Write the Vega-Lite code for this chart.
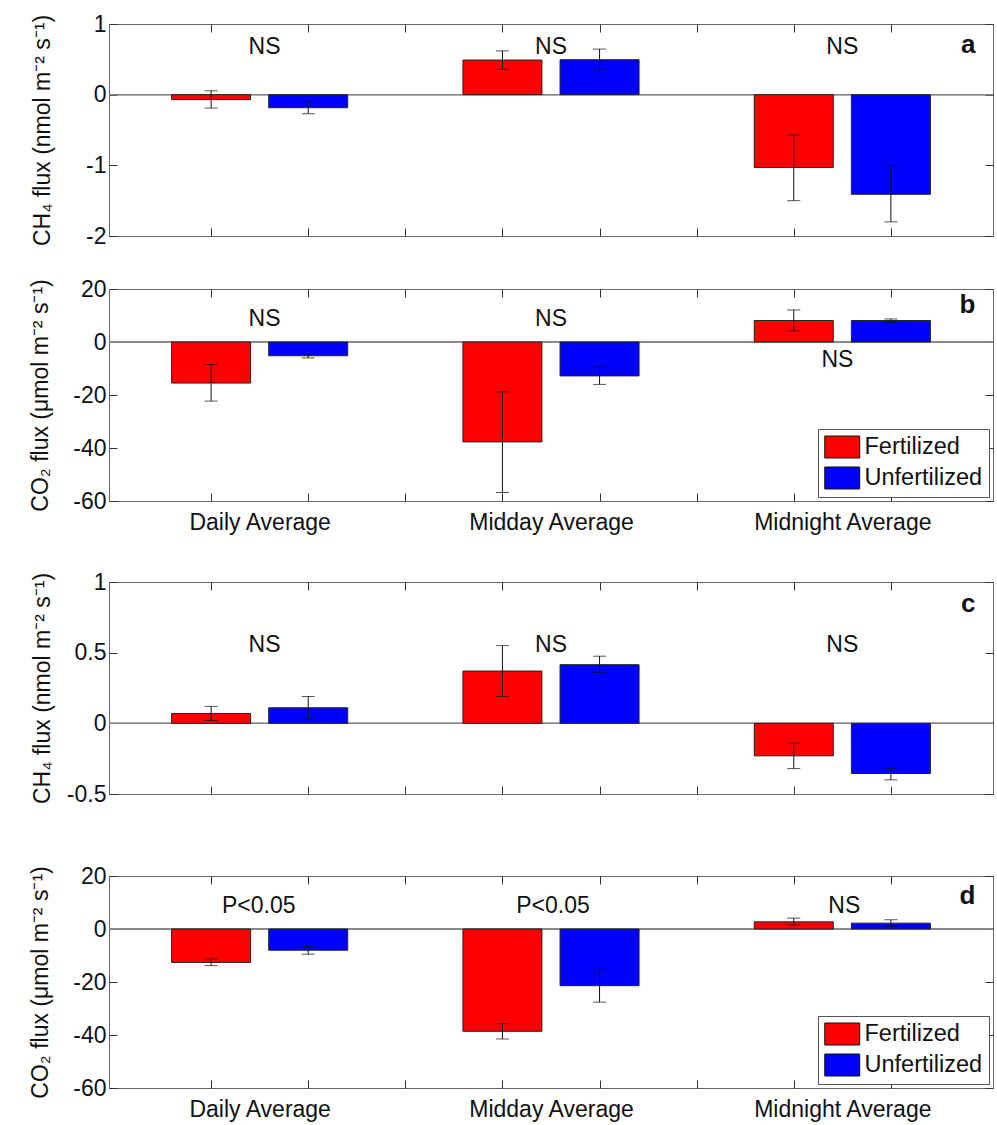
{
  "$schema": "https://vega.github.io/schema/vega-lite/v6.json",
  "padding": {"left": 28, "top": 12, "right": 0, "bottom": 0},
  "config": {
    "font": "Liberation Sans",
    "view": {"stroke": "#666", "strokeWidth": 1},
    "axis": {"grid": false, "domain": false, "tickSize": -8, "tickColor": "#333", "tickWidth": 1,
      "labelFont": "Liberation Sans", "labelFontSize": 23, "labelColor": "#111", "labelPadding": 11,
      "titleFont": "Liberation Sans", "titleFontSize": 23, "titleFontWeight": "normal", "titleColor": "#111"},
    "text": {"font": "Liberation Sans", "fontSize": 23, "color": "#111", "baseline": "alphabetic"}
  },
  "datasets": {
    "bars": [
      {"panel": "a", "period": "Daily Average", "treatment": "Fertilized", "x": 1, "mean": -0.07, "lo": -0.19, "hi": 0.055},
      {"panel": "a", "period": "Daily Average", "treatment": "Unfertilized", "x": 2, "mean": -0.185, "lo": -0.27, "hi": -0.10},
      {"panel": "a", "period": "Midday Average", "treatment": "Fertilized", "x": 4, "mean": 0.49, "lo": 0.36, "hi": 0.62},
      {"panel": "a", "period": "Midday Average", "treatment": "Unfertilized", "x": 5, "mean": 0.495, "lo": 0.35, "hi": 0.645},
      {"panel": "a", "period": "Midnight Average", "treatment": "Fertilized", "x": 7, "mean": -1.03, "lo": -1.50, "hi": -0.57},
      {"panel": "a", "period": "Midnight Average", "treatment": "Unfertilized", "x": 8, "mean": -1.41, "lo": -1.80, "hi": -1.00},
      {"panel": "b", "period": "Daily Average", "treatment": "Fertilized", "x": 1, "mean": -15.5, "lo": -22.3, "hi": -8.5},
      {"panel": "b", "period": "Daily Average", "treatment": "Unfertilized", "x": 2, "mean": -5.2, "lo": -6.0, "hi": -4.5},
      {"panel": "b", "period": "Midday Average", "treatment": "Fertilized", "x": 4, "mean": -37.7, "lo": -56.8, "hi": -18.8},
      {"panel": "b", "period": "Midday Average", "treatment": "Unfertilized", "x": 5, "mean": -12.8, "lo": -16.0, "hi": -9.5},
      {"panel": "b", "period": "Midnight Average", "treatment": "Fertilized", "x": 7, "mean": 8.1, "lo": 4.2, "hi": 12.1},
      {"panel": "b", "period": "Midnight Average", "treatment": "Unfertilized", "x": 8, "mean": 8.1, "lo": 7.5, "hi": 8.7},
      {"panel": "c", "period": "Daily Average", "treatment": "Fertilized", "x": 1, "mean": 0.07, "lo": 0.02, "hi": 0.12},
      {"panel": "c", "period": "Daily Average", "treatment": "Unfertilized", "x": 2, "mean": 0.11, "lo": 0.03, "hi": 0.19},
      {"panel": "c", "period": "Midday Average", "treatment": "Fertilized", "x": 4, "mean": 0.37, "lo": 0.19, "hi": 0.55},
      {"panel": "c", "period": "Midday Average", "treatment": "Unfertilized", "x": 5, "mean": 0.415, "lo": 0.36, "hi": 0.475},
      {"panel": "c", "period": "Midnight Average", "treatment": "Fertilized", "x": 7, "mean": -0.23, "lo": -0.32, "hi": -0.14},
      {"panel": "c", "period": "Midnight Average", "treatment": "Unfertilized", "x": 8, "mean": -0.355, "lo": -0.40, "hi": -0.32},
      {"panel": "d", "period": "Daily Average", "treatment": "Fertilized", "x": 1, "mean": -12.6, "lo": -13.8, "hi": -11.3},
      {"panel": "d", "period": "Daily Average", "treatment": "Unfertilized", "x": 2, "mean": -8.0, "lo": -9.5, "hi": -6.6},
      {"panel": "d", "period": "Midday Average", "treatment": "Fertilized", "x": 4, "mean": -38.6, "lo": -41.5, "hi": -35.7},
      {"panel": "d", "period": "Midday Average", "treatment": "Unfertilized", "x": 5, "mean": -21.4, "lo": -27.6, "hi": -15.2},
      {"panel": "d", "period": "Midnight Average", "treatment": "Fertilized", "x": 7, "mean": 2.7, "lo": 1.5, "hi": 4.1},
      {"panel": "d", "period": "Midnight Average", "treatment": "Unfertilized", "x": 8, "mean": 2.2, "lo": 1.0, "hi": 3.5}
    ],
    "notes": [
      {"panel": "a", "x": 1.55, "y": 0.571, "label": "NS"},
      {"panel": "a", "x": 4.5, "y": 0.571, "label": "NS"},
      {"panel": "a", "x": 7.5, "y": 0.571, "label": "NS"},
      {"panel": "b", "x": 1.55, "y": 6.05, "label": "NS"},
      {"panel": "b", "x": 4.5, "y": 6.05, "label": "NS"},
      {"panel": "b", "x": 7.45, "y": -9.3, "label": "NS"},
      {"panel": "c", "x": 1.55, "y": 0.508, "label": "NS"},
      {"panel": "c", "x": 4.5, "y": 0.508, "label": "NS"},
      {"panel": "c", "x": 7.5, "y": 0.508, "label": "NS"},
      {"panel": "d", "x": 1.49, "y": 6.2, "label": "P<0.05"},
      {"panel": "d", "x": 4.52, "y": 6.2, "label": "P<0.05"},
      {"panel": "d", "x": 7.52, "y": 6.2, "label": "NS"}
    ],
    "letters": [
      {"panel": "a", "x": 8.87, "y": 0.594, "label": "a"},
      {"panel": "b", "x": 8.87, "y": 10.9, "label": "b"},
      {"panel": "c", "x": 8.87, "y": 0.79, "label": "c"},
      {"panel": "d", "x": 8.87, "y": 9.3, "label": "d"}
    ]
  },
  "resolve": {"legend": {"color": "independent"}},
  "spacing": 35,
  "vconcat": [
    {
      "bounds": "flush",
      "spacing": 53,
      "resolve": {"legend": {"color": "independent"}},
      "vconcat": [
        {
          "width": 884, "height": 212,
          "resolve": {"axis": {"x": "independent", "y": "independent"}},
          "layer": [
            {"data": {"name": "bars"}, "transform": [{"filter": "datum.panel === 'a'"}],
             "mark": {"type": "rule", "color": "#888", "strokeWidth": 1},
             "encoding": {"y": {"datum": 0, "type": "quantitative", "scale": {"domain": [-2, 1], "nice": false}, "axis": null}}},
            {"data": {"name": "bars"}, "transform": [{"filter": "datum.panel === 'a'"}],
             "mark": {"type": "bar", "width": 79, "stroke": "#222", "strokeWidth": 1},
             "encoding": {
               "x": {"field": "x", "type": "quantitative", "scale": {"domain": [0, 9], "nice": false},
                 "axis": {"orient": "bottom", "values": [1, 2, 3, 4, 5, 6, 7, 8], "labels": false, "title": null}},
               "y": {"field": "mean", "type": "quantitative", "scale": {"domain": [-2, 1], "nice": false},
                 "axis": {"orient": "left", "values": [-2, -1, 0, 1], "labelExpr": "toString(datum.value)", "title": "CH₄ flux (nmol m⁻² s⁻¹)",
                   "titleX": -60, "titleY": 106, "titleAngle": -90, "titleAlign": "center", "titleBaseline": "alphabetic"}},
               "color": {"field": "treatment", "type": "nominal", "scale": {"domain": ["Fertilized", "Unfertilized"], "range": ["#ff0000", "#0000ff"]}, "legend": null}
             }},
            {"data": {"name": "bars"}, "transform": [{"filter": "datum.panel === 'a'"}],
             "mark": {"type": "errorbar", "color": "#111", "ticks": {"size": 13, "thickness": 1}, "rule": {"strokeWidth": 1}},
             "encoding": {
               "x": {"field": "x", "type": "quantitative", "axis": null},
               "y": {"field": "lo", "type": "quantitative", "axis": null},
               "y2": {"field": "hi"}
             }},
            {"data": {"name": "notes"}, "transform": [{"filter": "datum.panel === 'a'"}],
             "mark": {"type": "text", "align": "center"},
             "encoding": {
               "x": {"field": "x", "type": "quantitative", "axis": {"orient": "top", "values": [1, 2, 3, 4, 5, 6, 7, 8], "labels": false, "title": null}},
               "y": {"field": "y", "type": "quantitative", "axis": {"orient": "right", "values": [-2, -1, 0, 1], "labels": false, "title": null}},
               "text": {"field": "label"}
             }},
            {"data": {"name": "letters"}, "transform": [{"filter": "datum.panel === 'a'"}],
             "mark": {"type": "text", "align": "right", "fontWeight": "bold", "fontSize": 26},
             "encoding": {
               "x": {"field": "x", "type": "quantitative", "axis": null},
               "y": {"field": "y", "type": "quantitative", "axis": null},
               "text": {"field": "label"}
             }}
          ]
        },
        {
          "width": 884, "height": 212,
          "resolve": {"axis": {"x": "independent", "y": "independent"}},
          "layer": [
            {"data": {"name": "bars"}, "transform": [{"filter": "datum.panel === 'b'"}],
             "mark": {"type": "rule", "color": "#888", "strokeWidth": 1},
             "encoding": {"y": {"datum": 0, "type": "quantitative", "scale": {"domain": [-60, 20], "nice": false}, "axis": null}}},
            {"data": {"name": "bars"}, "transform": [{"filter": "datum.panel === 'b'"}],
             "mark": {"type": "bar", "width": 79, "stroke": "#222", "strokeWidth": 1},
             "encoding": {
               "x": {"field": "x", "type": "quantitative", "scale": {"domain": [0, 9], "nice": false},
                 "axis": {"orient": "bottom", "values": [1, 1.5, 2, 3, 4, 4.5, 5, 6, 7, 7.5, 8], "title": null, "labelAngle": 0, "labelOverlap": false, "labelFlush": false, "labelPadding": 18.5,
                   "labelExpr": "datum.value == 1.5 ? 'Daily Average' : datum.value == 4.5 ? 'Midday Average' : datum.value == 7.5 ? 'Midnight Average' : ''",
                   "tickOpacity": {"condition": {"test": "datum.value % 1 != 0", "value": 0}, "value": 1}}},
               "y": {"field": "mean", "type": "quantitative", "scale": {"domain": [-60, 20], "nice": false},
                 "axis": {"orient": "left", "values": [-60, -40, -20, 0, 20], "labelExpr": "toString(datum.value)", "title": "CO₂ flux (μmol m⁻² s⁻¹)",
                   "titleX": -62, "titleY": 106, "titleAngle": -90, "titleAlign": "center", "titleBaseline": "alphabetic"}},
               "color": {"field": "treatment", "type": "nominal", "scale": {"domain": ["Fertilized", "Unfertilized"], "range": ["#ff0000", "#0000ff"]},
                 "legend": {"orient": "bottom-right", "offset": 4, "title": null, "strokeColor": "#555", "fillColor": "white", "padding": 6,
                   "symbolType": "M-1,-0.978H2.111V0.978H-1Z", "symbolSize": 506, "symbolStrokeColor": "#111", "symbolStrokeWidth": 1, "symbolOpacity": 1,
                   "labelFontSize": 23.5, "labelFont": "Liberation Sans", "labelColor": "#111", "labelOffset": 16.5, "rowPadding": 5}}
             }},
            {"data": {"name": "bars"}, "transform": [{"filter": "datum.panel === 'b'"}],
             "mark": {"type": "errorbar", "color": "#111", "ticks": {"size": 13, "thickness": 1}, "rule": {"strokeWidth": 1}},
             "encoding": {
               "x": {"field": "x", "type": "quantitative", "axis": null},
               "y": {"field": "lo", "type": "quantitative", "axis": null},
               "y2": {"field": "hi"}
             }},
            {"data": {"name": "notes"}, "transform": [{"filter": "datum.panel === 'b'"}],
             "mark": {"type": "text", "align": "center"},
             "encoding": {
               "x": {"field": "x", "type": "quantitative", "axis": {"orient": "top", "values": [1, 2, 3, 4, 5, 6, 7, 8], "labels": false, "title": null}},
               "y": {"field": "y", "type": "quantitative", "axis": {"orient": "right", "values": [-60, -40, -20, 0, 20], "labels": false, "title": null}},
               "text": {"field": "label"}
             }},
            {"data": {"name": "letters"}, "transform": [{"filter": "datum.panel === 'b'"}],
             "mark": {"type": "text", "align": "right", "fontWeight": "bold", "fontSize": 26},
             "encoding": {
               "x": {"field": "x", "type": "quantitative", "axis": null},
               "y": {"field": "y", "type": "quantitative", "axis": null},
               "text": {"field": "label"}
             }}
          ]
        }
      ]
    },
    {
      "bounds": "flush",
      "spacing": 82,
      "resolve": {"legend": {"color": "independent"}},
      "vconcat": [
        {
          "width": 884, "height": 212,
          "resolve": {"axis": {"x": "independent", "y": "independent"}},
          "layer": [
            {"data": {"name": "bars"}, "transform": [{"filter": "datum.panel === 'c'"}],
             "mark": {"type": "rule", "color": "#888", "strokeWidth": 1},
             "encoding": {"y": {"datum": 0, "type": "quantitative", "scale": {"domain": [-0.5, 1], "nice": false}, "axis": null}}},
            {"data": {"name": "bars"}, "transform": [{"filter": "datum.panel === 'c'"}],
             "mark": {"type": "bar", "width": 79, "stroke": "#222", "strokeWidth": 1},
             "encoding": {
               "x": {"field": "x", "type": "quantitative", "scale": {"domain": [0, 9], "nice": false},
                 "axis": {"orient": "bottom", "values": [1, 2, 3, 4, 5, 6, 7, 8], "labels": false, "title": null}},
               "y": {"field": "mean", "type": "quantitative", "scale": {"domain": [-0.5, 1], "nice": false},
                 "axis": {"orient": "left", "values": [-0.5, 0, 0.5, 1], "labelExpr": "toString(datum.value)", "title": "CH₄ flux (nmol m⁻² s⁻¹)",
                   "titleX": -60, "titleY": 106, "titleAngle": -90, "titleAlign": "center", "titleBaseline": "alphabetic"}},
               "color": {"field": "treatment", "type": "nominal", "scale": {"domain": ["Fertilized", "Unfertilized"], "range": ["#ff0000", "#0000ff"]}, "legend": null}
             }},
            {"data": {"name": "bars"}, "transform": [{"filter": "datum.panel === 'c'"}],
             "mark": {"type": "errorbar", "color": "#111", "ticks": {"size": 13, "thickness": 1}, "rule": {"strokeWidth": 1}},
             "encoding": {
               "x": {"field": "x", "type": "quantitative", "axis": null},
               "y": {"field": "lo", "type": "quantitative", "axis": null},
               "y2": {"field": "hi"}
             }},
            {"data": {"name": "notes"}, "transform": [{"filter": "datum.panel === 'c'"}],
             "mark": {"type": "text", "align": "center"},
             "encoding": {
               "x": {"field": "x", "type": "quantitative", "axis": {"orient": "top", "values": [1, 2, 3, 4, 5, 6, 7, 8], "labels": false, "title": null}},
               "y": {"field": "y", "type": "quantitative", "axis": {"orient": "right", "values": [-0.5, 0, 0.5, 1], "labels": false, "title": null}},
               "text": {"field": "label"}
             }},
            {"data": {"name": "letters"}, "transform": [{"filter": "datum.panel === 'c'"}],
             "mark": {"type": "text", "align": "right", "fontWeight": "bold", "fontSize": 26},
             "encoding": {
               "x": {"field": "x", "type": "quantitative", "axis": null},
               "y": {"field": "y", "type": "quantitative", "axis": null},
               "text": {"field": "label"}
             }}
          ]
        },
        {
          "width": 884, "height": 212,
          "resolve": {"axis": {"x": "independent", "y": "independent"}},
          "layer": [
            {"data": {"name": "bars"}, "transform": [{"filter": "datum.panel === 'd'"}],
             "mark": {"type": "rule", "color": "#888", "strokeWidth": 1},
             "encoding": {"y": {"datum": 0, "type": "quantitative", "scale": {"domain": [-60, 20], "nice": false}, "axis": null}}},
            {"data": {"name": "bars"}, "transform": [{"filter": "datum.panel === 'd'"}],
             "mark": {"type": "bar", "width": 79, "stroke": "#222", "strokeWidth": 1},
             "encoding": {
               "x": {"field": "x", "type": "quantitative", "scale": {"domain": [0, 9], "nice": false},
                 "axis": {"orient": "bottom", "values": [1, 1.5, 2, 3, 4, 4.5, 5, 6, 7, 7.5, 8], "title": null, "labelAngle": 0, "labelOverlap": false, "labelFlush": false, "labelPadding": 18.5,
                   "labelExpr": "datum.value == 1.5 ? 'Daily Average' : datum.value == 4.5 ? 'Midday Average' : datum.value == 7.5 ? 'Midnight Average' : ''",
                   "tickOpacity": {"condition": {"test": "datum.value % 1 != 0", "value": 0}, "value": 1}}},
               "y": {"field": "mean", "type": "quantitative", "scale": {"domain": [-60, 20], "nice": false},
                 "axis": {"orient": "left", "values": [-60, -40, -20, 0, 20], "labelExpr": "toString(datum.value)", "title": "CO₂ flux (μmol m⁻² s⁻¹)",
                   "titleX": -62, "titleY": 106, "titleAngle": -90, "titleAlign": "center", "titleBaseline": "alphabetic"}},
               "color": {"field": "treatment", "type": "nominal", "scale": {"domain": ["Fertilized", "Unfertilized"], "range": ["#ff0000", "#0000ff"]},
                 "legend": {"orient": "bottom-right", "offset": 4, "title": null, "strokeColor": "#555", "fillColor": "white", "padding": 6,
                   "symbolType": "M-1,-0.978H2.111V0.978H-1Z", "symbolSize": 506, "symbolStrokeColor": "#111", "symbolStrokeWidth": 1, "symbolOpacity": 1,
                   "labelFontSize": 23.5, "labelFont": "Liberation Sans", "labelColor": "#111", "labelOffset": 16.5, "rowPadding": 5}}
             }},
            {"data": {"name": "bars"}, "transform": [{"filter": "datum.panel === 'd'"}],
             "mark": {"type": "errorbar", "color": "#111", "ticks": {"size": 13, "thickness": 1}, "rule": {"strokeWidth": 1}},
             "encoding": {
               "x": {"field": "x", "type": "quantitative", "axis": null},
               "y": {"field": "lo", "type": "quantitative", "axis": null},
               "y2": {"field": "hi"}
             }},
            {"data": {"name": "notes"}, "transform": [{"filter": "datum.panel === 'd'"}],
             "mark": {"type": "text", "align": "center"},
             "encoding": {
               "x": {"field": "x", "type": "quantitative", "axis": {"orient": "top", "values": [1, 2, 3, 4, 5, 6, 7, 8], "labels": false, "title": null}},
               "y": {"field": "y", "type": "quantitative", "axis": {"orient": "right", "values": [-60, -40, -20, 0, 20], "labels": false, "title": null}},
               "text": {"field": "label"}
             }},
            {"data": {"name": "letters"}, "transform": [{"filter": "datum.panel === 'd'"}],
             "mark": {"type": "text", "align": "right", "fontWeight": "bold", "fontSize": 26},
             "encoding": {
               "x": {"field": "x", "type": "quantitative", "axis": null},
               "y": {"field": "y", "type": "quantitative", "axis": null},
               "text": {"field": "label"}
             }}
          ]
        }
      ]
    }
  ]
}
